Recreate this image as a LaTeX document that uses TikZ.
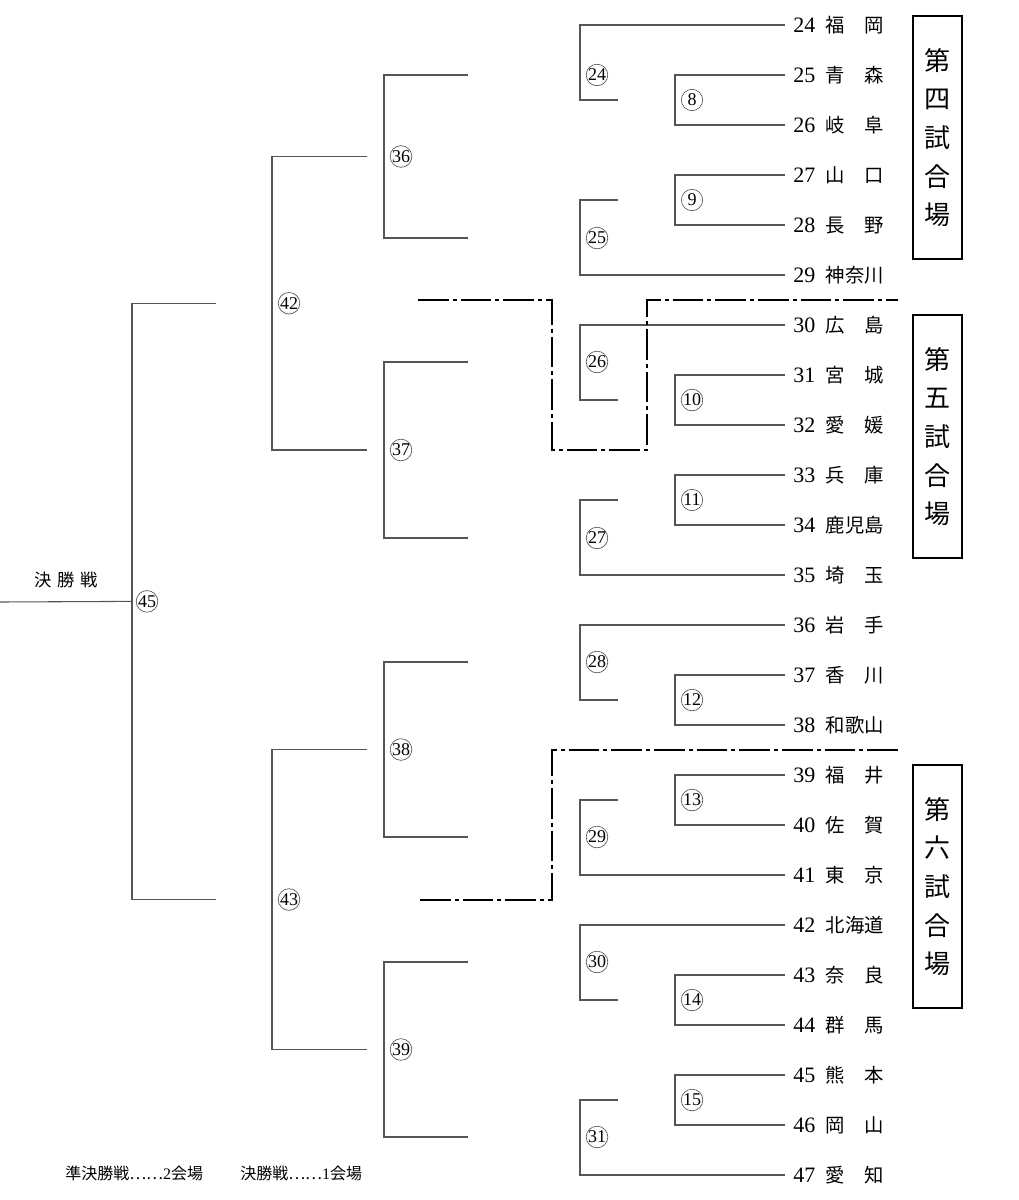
\documentclass[tikz,border=0pt]{standalone}
\usepackage{fontspec}
\setmainfont{Liberation Serif}
\newfontfamily\jp{Noto Sans CJK JP}
\usepackage{tikz}
\usetikzlibrary{positioning,calc}
\definecolor{brLine}{RGB}{85,85,85}

\begin{document}
\begin{tikzpicture}[
  x=0.75pt, y=-0.75pt,
  ln/.style={draw=brLine, line width=0.8pt},
  zone/.style={draw=black, line width=1.6pt, dash pattern=on 23pt off 3pt on 3pt off 3pt},
  team/.style={anchor=west, inner xsep=6pt, inner ysep=0pt, text height=11pt, text depth=0pt},
  num/.style={circle, draw=brLine, line width=0.5pt, inner sep=0pt, minimum size=16pt, font=\fontsize{13.5}{13.5}\selectfont},
  venue/.style={draw, line width=1.1pt, minimum width=36.75pt, minimum height=182pt, align=center, inner sep=0pt,
    font=\jp\fontsize{19.5}{29}\selectfont},
  note/.style={inner sep=0pt, font=\fontsize{12}{12}\selectfont},
]
\useasboundingbox (0,0) rectangle (1018,1200);
% teams
\foreach \n/\nm [count=\i from 0] in {24/福\hfill 岡, 25/青\hfill 森, 26/岐\hfill 阜, 27/山\hfill 口,
  28/長\hfill 野, 29/神奈川, 30/広\hfill 島, 31/宮\hfill 城, 32/愛\hfill 媛, 33/兵\hfill 庫,
  34/鹿児島, 35/埼\hfill 玉, 36/岩\hfill 手, 37/香\hfill 川, 38/和歌山, 39/福\hfill 井,
  40/佐\hfill 賀, 41/東\hfill 京, 42/北海道, 43/奈\hfill 良, 44/群\hfill 馬, 45/熊\hfill 本,
  46/岡\hfill 山, 47/愛\hfill 知}
  \node[team] (t\n) at (785,25+50*\i)
    {\fontsize{16.5}{16.5}\selectfont\n\hspace{8pt}{\jp\fontsize{14.5}{14.5}\selectfont\makebox[3em]{\nm}}};
% first round
\foreach \m/\a/\b in {8/25/26, 9/27/28, 10/31/32, 11/33/34, 12/37/38, 13/39/40, 14/43/44, 15/45/46}{
  \draw[ln] (t\a.west) -- ++(-110,0) |- (t\b.west);
  \node[num] (m\m) at ($(t\a.west)!0.5!(t\b.west)+(-93,0)$) {\m};
  \coordinate (s\m) at ($(t\a.west)!0.5!(t\b.west)+(-167,0)$);
}
% second round
\foreach \m/\a/\b/\dx/\ly in {24/t24.west/s8/-205/75, 25/s9/t29.west/-38/238,
  26/t30.west/s10/-205/362, 27/s11/t35.west/-38/538, 28/t36.west/s12/-205/662,
  29/s13/t41.west/-38/837, 30/t42.west/s14/-205/962, 31/s15/t47.west/-38/1137}{
  \draw[ln] (\a) -- ++(\dx,0) |- (\b);
  \node[num] (m\m) at (597,\ly) {\m};
  \coordinate (w\m) at (468,\ly);
}
% third round
\foreach \m/\a/\b in {36/24/25, 37/26/27, 38/28/29, 39/30/31}{
  \draw[ln] (w\a) -- ++(-84,0) |- (w\b);
  \node[num] (m\m) at ($(w\a)!0.5!(w\b)+(-67,0)$) {\m};
  \coordinate (v\m) at ($(w\a)!0.5!(w\b)+(-101,0)$);
}
% semi finals
\foreach \m/\a/\b in {42/36/37, 43/38/39}{
  \draw[ln] (v\a) -- ++(-95,0) |- (v\b);
  \node[num] (m\m) at ($(v\a)!0.5!(v\b)+(-78,0)$) {\m};
  \coordinate (u\m) at ($(v\a)!0.5!(v\b)+(-151,0)$);
}
% final
\draw[ln] (u42) -- ++(-84,0) |- (u43);
\node[num] (m45) at ($(u42)!0.5!(u43)+(-69,0)$) {45};
\coordinate (champ) at ($(u42)!0.5!(u43)+(-84,0)$);
\coordinate (edge) at (0,602);
\draw[ln] (champ) -- (edge);
\node[inner sep=0pt, font=\jp\fontsize{13}{13}\selectfont] (final) at (66,580) {決\hspace{4.5pt}勝\hspace{4.5pt}戦};
% venue borders
\coordinate (d1s) at (418,300);
\coordinate (k1) at (552,450);
\coordinate (k2) at (647,300);
\coordinate (d1e) at (898,300);
\draw[zone] (d1s) -| (k1) -| (k2) -- (d1e);
\coordinate (d2s) at (898,750);
\coordinate (k3) at (552,900);
\coordinate (d2e) at (418,900);
\draw[zone] (d2s) -| (k3) -- (d2e);
% venues
\node[venue] (box4) at (937.5,137.5) {第\\四\\試\\合\\場};
\node[venue] (box5) at (937.5,436.5) {第\\五\\試\\合\\場};
\node[venue] (box6) at (937.5,886.5) {第\\六\\試\\合\\場};
% notes
\node[note, anchor=west] (note1) at (65,1173) {{\jp 準決勝戦……}2{\jp 会場}};
\node[note, anchor=west] (note2) at (240,1173) {{\jp 決勝戦……}1{\jp 会場}};
\end{tikzpicture}
\end{document}
